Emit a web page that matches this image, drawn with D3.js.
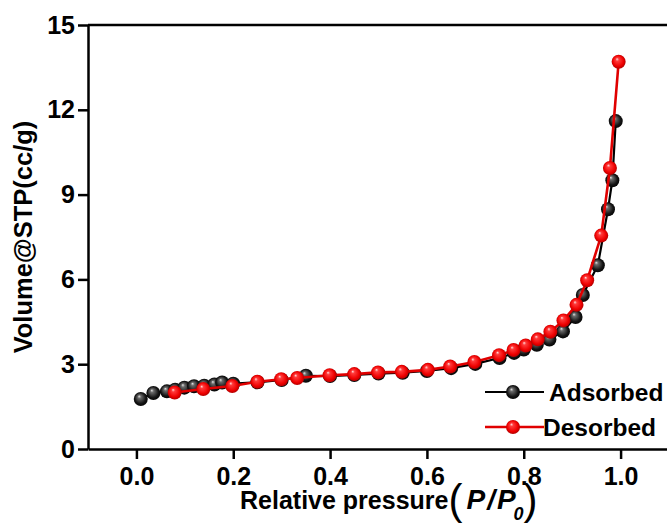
<!DOCTYPE html>
<html lang="en">
<head>
    <meta charset="UTF-8">
    <title>Isotherm</title>
    <style>
      body { margin: 0; background: #fff; }
      text { font-family: Arial, "Liberation Sans", sans-serif; }
    </style>
</head>
<body>
  <script src="https://d3js.org/d3.v7.min.js"></script>
  <div id="my_dataviz"></div>
  <script>
  // datos
  var adsP = [0.009, 0.035, 0.063, 0.08, 0.099, 0.119, 0.14, 0.161, 0.177, 0.2, 0.25, 0.3, 0.35, 0.4, 0.45, 0.5, 0.55, 0.6, 0.65, 0.7, 0.75, 0.78, 0.8, 0.827, 0.853, 0.881, 0.907, 0.922, 0.953, 0.974, 0.983, 0.99];
  var adsV = [1.77, 1.98, 2.04, 2.1, 2.17, 2.22, 2.24, 2.28, 2.35, 2.31, 2.36, 2.44, 2.59, 2.58, 2.62, 2.67, 2.7, 2.76, 2.86, 3.01, 3.22, 3.4, 3.52, 3.69, 3.87, 4.16, 4.67, 5.45, 6.5, 8.48, 9.51, 11.6];
  var desP = [0.079, 0.138, 0.198, 0.25, 0.299, 0.332, 0.399, 0.45, 0.499, 0.548, 0.602, 0.648, 0.698, 0.749, 0.779, 0.804, 0.829, 0.855, 0.882, 0.909, 0.931, 0.96, 0.978, 0.996];
  var desV = [2.0, 2.12, 2.23, 2.38, 2.47, 2.51, 2.61, 2.65, 2.71, 2.73, 2.8, 2.92, 3.08, 3.32, 3.5, 3.66, 3.88, 4.15, 4.55, 5.1, 5.97, 7.55, 9.94, 13.7];
  var xTicks = [0, 0.2, 0.4, 0.6, 0.8, 1.0];
  var yTicks = [0, 3, 6, 9, 12, 15];
  var seriesNames = ["Adsorbed", "Desorbed"];

  var width = 667, height = 524;
  var margin = {top: 25, left: 88, bottom: 75, right: -2};

  var svg = d3.select("#my_dataviz")
    .append("svg")
      .attr("width", width)
      .attr("height", height);

  svg.append("rect").attr("width", width).attr("height", height).attr("fill", "#fff");

  // gradientes para las bolitas
  var defs = svg.append("defs");
  function bola(id, c0, c1, c2, c3) {
    var g = defs.append("radialGradient").attr("id", id)
      .attr("cx", "50%").attr("cy", "50%").attr("r", "55%")
      .attr("fx", "38%").attr("fy", "30%");
    g.append("stop").attr("offset", "0%").attr("stop-color", c0);
    g.append("stop").attr("offset", "22%").attr("stop-color", c1);
    g.append("stop").attr("offset", "70%").attr("stop-color", c2);
    g.append("stop").attr("offset", "100%").attr("stop-color", c3);
  }
  bola("gRed", "#ffe0e0", "#ff3a3a", "#ee0000", "#a00000");
  bola("gBlack", "#e6e6e6", "#6a6a6a", "#151515", "#000");

  var x = d3.scaleLinear()
    .domain([-0.1, 1.1])
    .range([margin.left, width - margin.right]);
  var y = d3.scaleLinear()
    .domain([0, 15])
    .range([height - margin.bottom, margin.top]);

  // marco superior
  svg.append("line")
    .attr("x1", x(-0.1)).attr("x2", x(1.1))
    .attr("y1", y(15)).attr("y2", y(15))
    .attr("stroke", "#000").attr("stroke-width", 2.5);

  var xAxis = svg.append("g")
    .attr("transform", "translate(0," + y(0) + ")")
    .call(d3.axisBottom(x).tickValues(xTicks).tickFormat(d3.format(".1f")).tickSize(10).tickSizeOuter(0).tickPadding(8));
  var yAxis = svg.append("g")
    .attr("transform", "translate(" + x(-0.1) + ",0)")
    .call(d3.axisLeft(y).tickValues(yTicks).tickSize(10).tickSizeOuter(0).tickPadding(3));

  [xAxis, yAxis].forEach(function(a) {
    a.select(".domain").attr("stroke-width", 2.5);
    a.selectAll(".tick line").attr("stroke-width", 2.5);
    a.selectAll(".tick text")
      .attr("fill", "#000")
      .style("font-size", "25px")
      .style("font-weight", "bold")
      .style("font-family", "Arial, 'Liberation Sans', sans-serif");
  });

  // titulos
  svg.append("text")
    .attr("transform", "translate(32," + y(7.5) + ") rotate(-90)")
    .attr("text-anchor", "middle")
    .style("font-size", "25.5px")
    .style("font-weight", "bold")
    .text("Volume@STP(cc/g)");

  var xt = svg.append("text")
    .attr("x", 240).attr("y", 509)
    .style("font-size", "25px")
    .style("font-weight", "bold");
  xt.append("tspan").text("Relative pressure");
  xt.append("tspan").style("font-size", "42px").style("font-weight", "normal").attr("dy", 5).text("(");
  xt.append("tspan").style("font-size", "28px").style("font-style", "italic")
    .style("letter-spacing", "2px").attr("dx", 4).attr("dy", -5).text("P/P");
  xt.append("tspan").style("font-size", "18px").style("font-style", "italic").attr("dx", -4).attr("dy", 11).text("0");
  xt.append("tspan").style("font-size", "42px").style("font-weight", "normal").attr("dy", -6).text(")");

  var line = d3.line()
    .x(function(d) { return x(d[0]); })
    .y(function(d) { return y(d[1]); });

  var ads = adsP.map(function(p, i) { return [p, adsV[i]]; });
  var des = desP.map(function(p, i) { return [p, desV[i]]; });

  var series = [
    {name: seriesNames[0], data: ads, color: "#000", grad: "url(#gBlack)", lw: 2.2},
    {name: seriesNames[1], data: des, color: "#e00000", grad: "url(#gRed)", lw: 2.6}
  ];

  series.forEach(function(s) {
    svg.append("path")
      .datum(s.data)
      .attr("fill", "none")
      .attr("stroke", s.color)
      .attr("stroke-width", s.lw)
      .attr("d", line);
    svg.append("g").selectAll("circle")
      .data(s.data)
      .enter().append("circle")
        .attr("cx", function(d) { return x(d[0]); })
        .attr("cy", function(d) { return y(d[1]); })
        .attr("r", 7)
        .attr("fill", s.grad);
  });

  // leyenda
  var leg = svg.append("g");
  series.forEach(function(s, i) {
    var ly = 392 + i * 35;
    leg.append("line")
      .attr("x1", 485).attr("x2", 544)
      .attr("y1", ly).attr("y2", ly)
      .attr("stroke", s.color).attr("stroke-width", s.lw);
    leg.append("circle")
      .attr("cx", 513).attr("cy", ly).attr("r", 7)
      .attr("fill", s.grad);
    leg.append("text")
      .attr("x", i == 0 ? 549 : 543).attr("y", ly + 9)
      .style("font-size", "24.5px")
      .style("font-weight", "bold")
      .text(s.name);
  });
  </script>
</body>
</html>
